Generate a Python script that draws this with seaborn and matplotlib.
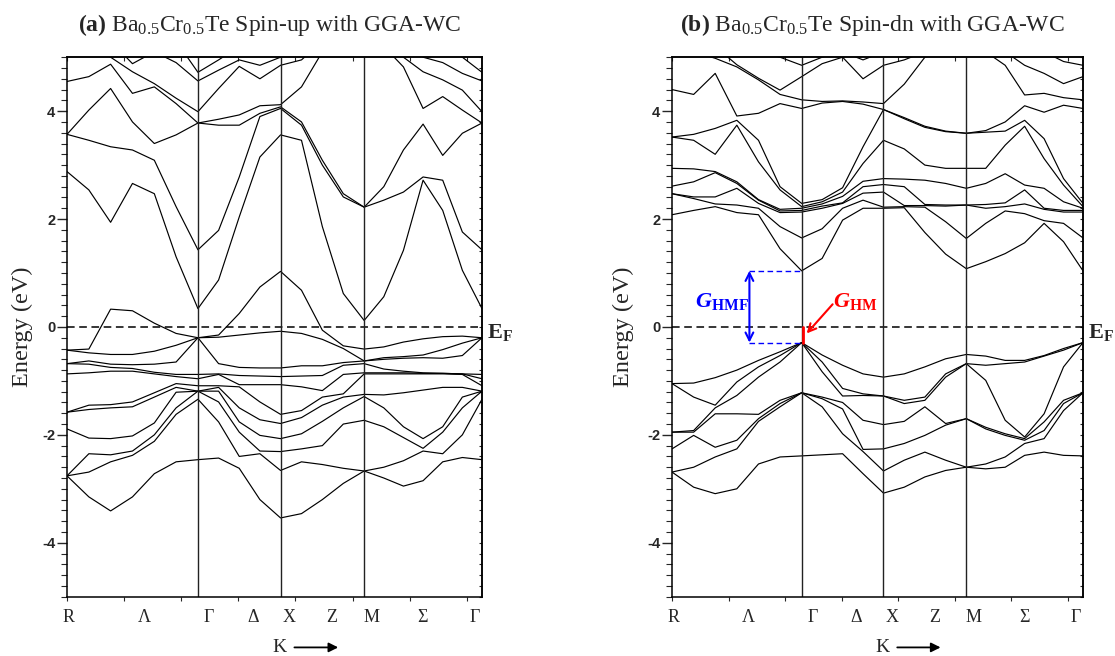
import numpy as np
import pandas as pd
import seaborn as sns
import matplotlib.pyplot as plt
import matplotlib.transforms as mtrans
from matplotlib.ticker import MultipleLocator, FixedLocator, FixedFormatter

# k-path coordinate of every sampled column (R -> Gamma -> X -> M -> Gamma)
k_path = [0, 21.7, 43.3, 65, 86.7, 108.3, 130,
          150.5, 171, 191.5, 212,
          232.8, 253.5, 274.3, 295,
          314.5, 334, 353.5, 373, 392.5, 412]
k_sym = [0, 130, 212, 295, 412]
sym_labels = ['R', 'Λ', 'Γ', 'Δ', 'X', 'Z', 'M', 'Σ', 'Γ']
sym_label_k = [2, 77, 141, 185, 221, 263, 302, 353, 405]

# (a) spin-up: energies (eV) at each k column, 11 lower + 7 upper bands
up_R_G = [
    [-2.76, -2.76, -2.76, -1.89, -1.58, -1.58, -0.87, -0.68, -0.68, -0.43, -0.43, 2.88, 3.57, 3.57, 4.55, 5.3, 5.6, 5.9],
    [-3.15, -2.69, -2.35, -2.06, -1.53, -1.45, -0.85, -0.69, -0.63, -0.48, -0.41, 2.54, 3.46, 4.02, 4.64, 5.2, 5.5, 5.8],
    [-3.41, -2.50, -2.37, -2.07, -1.50, -1.44, -0.82, -0.75, -0.69, -0.51, 0.33, 1.94, 3.34, 4.42, 4.87, 5.0, 5.3, 5.6],
    [-3.15, -2.38, -2.30, -2.02, -1.48, -1.39, -0.82, -0.77, -0.70, -0.51, 0.30, 2.66, 3.28, 3.80, 4.33, 4.73, 4.88, 5.3],
    [-2.72, -2.12, -2.00, -1.78, -1.30, -1.22, -0.87, -0.84, -0.69, -0.45, 0.07, 2.47, 3.09, 3.40, 4.45, 4.51, 5.1, 5.4],
    [-2.50, -1.62, -1.50, -1.21, -1.12, -1.05, -0.92, -0.88, -0.65, -0.34, -0.12, 1.30, 2.23, 3.56, 4.14, 4.24, 4.90, 5.3],
    [-2.46, -1.34, -1.19, -1.19, -1.19, -1.09, -0.96, -0.88, -0.20, -0.20, -0.20, 0.34, 1.43, 3.78, 3.78, 3.99, 4.56, 4.72],
]
up_G_X = [
    [-2.43, -1.76, -1.39, -1.19, -1.12, -1.09, -0.88, -0.87, -0.68, -0.19, -0.15, 0.87, 1.79, 3.74, 3.85, 4.42, 4.76, 4.95],
    [-2.62, -2.40, -1.95, -1.76, -1.50, -1.11, -1.07, -0.90, -0.75, -0.15, 0.25, 2.04, 2.78, 3.74, 3.93, 4.83, 4.95, 5.2],
    [-3.20, -2.35, -2.30, -2.01, -1.72, -1.39, -1.07, -0.91, -0.76, -0.11, 0.74, 3.15, 3.90, 3.96, 4.10, 4.60, 4.85, 5.1],
    [-3.54, -2.66, -2.31, -2.07, -1.79, -1.62, -1.07, -0.92, -0.76, -0.08, 1.03, 3.56, 4.05, 4.08, 4.12, 4.85, 5.0, 5.3],
]
up_X_M = [
    [-3.46, -2.50, -2.26, -1.98, -1.68, -1.55, -1.11, -0.91, -0.72, -0.12, 0.68, 3.46, 3.74, 3.80, 4.45, 4.95, 5.2, 5.5],
    [-3.20, -2.55, -2.20, -1.75, -1.45, -1.30, -1.18, -0.90, -0.72, -0.23, -0.06, 1.86, 3.00, 3.09, 5.1, 5.3, 5.5, 5.8],
    [-2.90, -2.62, -1.80, -1.50, -1.30, -1.24, -0.88, -0.71, -0.66, -0.40, -0.35, 0.62, 2.41, 2.47, 5.2, 5.4, 5.6, 5.9],
    [-2.67, -2.67, -1.73, -1.29, -1.25, -0.87, -0.85, -0.68, -0.63, -0.63, -0.41, 0.12, 2.22, 2.22, 5.3, 5.5, 5.7, 6.0],
]
up_M_G = [
    [-2.80, -2.60, -1.85, -1.50, -1.26, -0.87, -0.85, -0.78, -0.60, -0.57, -0.37, 0.56, 2.35, 2.60, 5.2, 5.5, 5.8, 6.0],
    [-2.95, -2.48, -2.05, -1.85, -1.22, -0.87, -0.85, -0.82, -0.58, -0.55, -0.28, 1.42, 2.50, 3.28, 4.82, 5.0, 5.3, 5.6],
    [-2.85, -2.30, -2.25, -2.07, -1.17, -0.87, -0.86, -0.85, -0.57, -0.52, -0.22, 2.72, 2.78, 3.76, 4.05, 4.73, 5.0, 5.3],
    [-2.50, -2.35, -1.95, -1.85, -1.12, -0.87, -0.86, -0.86, -0.58, -0.42, -0.18, 2.16, 2.72, 3.18, 4.27, 4.58, 4.90, 5.2],
    [-2.42, -2.00, -1.50, -1.30, -1.12, -0.88, -0.87, -0.87, -0.53, -0.30, -0.17, 1.05, 1.76, 3.59, 4.02, 4.39, 4.70, 5.0],
    [-2.46, -1.34, -1.19, -1.19, -1.19, -1.09, -0.96, -0.88, -0.20, -0.20, -0.20, 0.34, 1.43, 3.78, 3.78, 3.99, 4.56, 4.72],
]

# (b) spin-dn: 7 lower + 13 upper bands
dn_R_G = [
    [-2.69, -2.69, -2.26, -1.95, -1.95, -1.05, -1.05, 2.08, 2.47, 2.47, 2.61, 2.94, 3.52, 3.52, 4.40, 5.1, 5.3, 5.5, 5.7, 5.9],
    [-2.97, -2.60, -2.01, -1.95, -1.92, -1.30, -1.04, 2.16, 2.38, 2.41, 2.69, 2.93, 3.46, 3.57, 4.31, 5.1, 5.3, 5.5, 5.7, 5.9],
    [-3.09, -2.41, -2.23, -1.61, -1.50, -1.45, -0.94, 2.23, 2.28, 2.41, 2.86, 2.88, 3.20, 3.68, 4.70, 4.98, 5.2, 5.4, 5.6, 5.8],
    [-3.00, -2.26, -2.10, -1.61, -1.27, -1.02, -0.80, 2.12, 2.26, 2.57, 2.66, 2.69, 3.74, 3.83, 3.91, 4.82, 4.86, 5.2, 5.4, 5.6],
    [-2.54, -1.75, -1.70, -1.62, -0.93, -0.74, -0.62, 2.08, 2.20, 2.29, 2.35, 2.36, 3.06, 3.46, 3.96, 4.58, 4.61, 5.1, 5.3, 5.5],
    [-2.41, -1.48, -1.42, -1.36, -0.65, -0.53, -0.46, 1.45, 1.86, 2.12, 2.15, 2.18, 2.54, 2.60, 4.14, 4.31, 4.39, 5.0, 5.3, 5.5],
    [-2.39, -1.22, -1.22, -1.22, -0.29, -0.29, -0.29, 1.04, 1.65, 2.13, 2.16, 2.20, 2.23, 2.29, 4.05, 4.21, 4.64, 4.85, 5.1, 5.3],
]
dn_G_X = [
    [-2.37, -1.48, -1.33, -1.30, -0.83, -0.65, -0.52, 1.27, 1.82, 2.20, 2.24, 2.28, 2.32, 2.36, 4.15, 4.18, 4.88, 5.0, 5.2, 5.4],
    [-2.35, -1.98, -1.52, -1.40, -1.28, -1.14, -0.71, 1.98, 2.20, 2.29, 2.30, 2.42, 2.50, 2.58, 4.18, 4.19, 5.0, 5.1, 5.3, 5.5],
    [-2.72, -2.31, -2.27, -1.73, -1.27, -1.24, -0.87, 2.20, 2.35, 2.48, 2.60, 2.70, 3.03, 3.34, 4.13, 4.17, 4.60, 4.95, 5.2, 5.4],
    [-3.08, -2.67, -2.26, -1.81, -1.28, -1.28, -0.93, 2.20, 2.22, 2.50, 2.64, 2.75, 3.46, 4.03, 4.03, 4.14, 4.85, 5.1, 5.3, 5.5],
]
dn_X_M = [
    [-2.97, -2.47, -2.16, -1.75, -1.42, -1.36, -0.87, 2.21, 2.23, 2.25, 2.60, 2.74, 3.30, 3.86, 3.88, 4.50, 4.95, 5.1, 5.3, 5.5],
    [-2.78, -2.32, -2.01, -1.48, -1.36, -1.30, -0.74, 1.75, 2.22, 2.25, 2.27, 2.72, 3.00, 3.70, 3.72, 5.0, 5.1, 5.3, 5.5, 5.7],
    [-2.66, -2.47, -1.82, -1.79, -0.93, -0.87, -0.59, 1.35, 1.95, 2.24, 2.26, 2.66, 2.94, 3.62, 3.63, 5.1, 5.2, 5.4, 5.6, 5.8],
    [-2.60, -2.60, -1.70, -1.70, -0.68, -0.68, -0.51, 1.08, 1.64, 2.26, 2.26, 2.57, 2.94, 3.59, 3.59, 5.2, 5.3, 5.5, 5.7, 5.9],
]
dn_M_G = [
    [-2.63, -2.54, -1.89, -1.86, -0.99, -0.71, -0.54, 1.21, 1.92, 2.20, 2.27, 2.66, 2.94, 3.61, 3.64, 5.1, 5.2, 5.4, 5.6, 5.8],
    [-2.60, -2.41, -2.01, -1.98, -1.73, -0.68, -0.62, 1.36, 2.15, 2.23, 2.30, 2.84, 3.37, 3.63, 3.80, 4.85, 5.1, 5.3, 5.5, 5.7],
    [-2.38, -2.16, -2.10, -2.07, -2.04, -0.65, -0.62, 1.56, 2.10, 2.28, 2.54, 2.63, 3.72, 3.83, 4.10, 4.30, 4.85, 5.1, 5.3, 5.5],
    [-2.32, -2.07, -1.92, -1.76, -1.61, -0.54, -0.53, 1.92, 1.97, 2.18, 2.20, 2.57, 3.12, 3.49, 3.98, 4.33, 4.70, 5.1, 5.3, 5.5],
    [-2.38, -1.55, -1.42, -1.36, -0.74, -0.43, -0.40, 1.58, 1.92, 2.13, 2.16, 2.32, 2.63, 2.75, 4.11, 4.25, 4.51, 4.92, 5.2, 5.4],
    [-2.39, -1.22, -1.22, -1.22, -0.29, -0.29, -0.29, 1.04, 1.65, 2.13, 2.16, 2.20, 2.23, 2.29, 4.05, 4.21, 4.64, 4.85, 5.1, 5.3],
]
n_low_dn = 7

sns.set_style('ticks')
plt.rcParams['font.family'] = ['Liberation Serif', 'DejaVu Serif']
plt.rcParams['mathtext.fontset'] = 'custom'
plt.rcParams['mathtext.rm'] = 'Liberation Serif'
plt.rcParams['mathtext.it'] = 'Liberation Serif:italic'
plt.rcParams['mathtext.bf'] = 'Liberation Serif:bold'
plt.rcParams['mathtext.bfit'] = 'Liberation Serif:italic:bold'
plt.rcParams['axes.unicode_minus'] = False

W, H = 1115, 656
fig = plt.figure(figsize=(W / 100, H / 100), dpi=100)
ax1 = fig.add_axes([67 / W, 1 - 596.7 / H, 415 / W, 539.5 / H])
ax2 = fig.add_axes([672 / W, 1 - 596.7 / H, 411 / W, 539.5 / H])


def to_long(rows):
    df = pd.DataFrame(rows, index=k_path)
    df.index.name = 'k'
    return df.reset_index().melt(id_vars='k', var_name='band', value_name='E')


def draw_panel(ax, rows, title, title_x, ylab_x):
    data = to_long(rows)
    sns.lineplot(data=data, x='k', y='E', units='band', estimator=None,
                 color='black', lw=0.85, ax=ax, legend=False)
    ax.axhline(0, color='black', lw=1.1, ls=(0, (5, 3)))
    for k in k_sym[1:-1]:
        ax.axvline(k, color='#222222', lw=1.0)
    ax.set_xlim(k_sym[0], k_sym[-1])
    ax.set_ylim(-5, 5)
    ax.set_xlabel('')
    ax.set_ylabel('Energy (eV)', fontsize=17.5)
    ax.yaxis.set_label_coords(ylab_x, 0.5)

    ax.yaxis.set_major_locator(FixedLocator([-4, -2, 0, 2, 4]))
    ax.yaxis.set_major_formatter(FixedFormatter(['-4', '-2', '0', '2', '4']))
    ax.yaxis.set_minor_locator(MultipleLocator(0.2))
    ax.tick_params(axis='y', which='major', direction='out', length=7, width=1, pad=1.5,
                   labelsize=10.5)
    ax.tick_params(axis='y', which='minor', direction='out', length=4.5, width=0.8)
    for lab in ax.get_yticklabels():
        lab.set_fontfamily('Liberation Sans')
        lab.set_fontweight('bold')

    xt = np.arange(0, 412, 56.7)
    ax.set_xticks(xt)
    ax.set_xticklabels([])
    ax.tick_params(axis='x', direction='out', length=3, width=0.8)
    top = ax.secondary_xaxis('top')
    top.set_xticks(xt)
    top.tick_params(direction='in', length=3, width=0.8, labeltop=False)
    right = ax.secondary_yaxis('right')
    right.yaxis.set_major_locator(FixedLocator([-4, -2, 0, 2, 4]))
    right.yaxis.set_minor_locator(MultipleLocator(0.2))
    right.tick_params(which='both', direction='in', length=2.5, width=0.8, labelright=False)
    for sp in list(ax.spines.values()) + [top.spines['top'], right.spines['right']]:
        sp.set_linewidth(1.1)
        sp.set_color('black')

    trans = mtrans.blended_transform_factory(ax.transData, ax.transAxes)
    for lab, k in zip(sym_labels, sym_label_k):
        ax.text(k, -0.022, lab, transform=trans, ha='center', va='top', fontsize=13)
    ax.text(218, -0.094, 'K', transform=trans, ha='right', va='center', fontsize=14)
    ax.annotate('', xy=(272, -0.094), xytext=(223, -0.094), xycoords=trans, textcoords=trans,
                arrowprops=dict(arrowstyle='-|>', lw=1.3, color='black', mutation_scale=14),
                annotation_clip=False)
    ax.text(1.012, 0.49, r'$\mathbf{E_F}$', transform=ax.transAxes, ha='left', va='center',
            fontsize=16)
    fig.text(title_x / W, 1 - 25 / H, title, ha='center', va='center', fontsize=17)


rows_up = up_R_G + up_G_X + up_X_M + up_M_G
rows_dn = dn_R_G + dn_G_X + dn_X_M + dn_M_G
draw_panel(ax1, rows_up, r'$\mathbf{(a)}$ Ba$_{0.5}$Cr$_{0.5}$Te Spin-up with GGA-WC', 270, -0.082)
draw_panel(ax2, rows_dn, r'$\mathbf{(b)}$ Ba$_{0.5}$Cr$_{0.5}$Te Spin-dn with GGA-WC', 872, -0.092)

# half-metallic gaps in the spin-dn channel at Gamma
gamma_row = dn_R_G[-1]
vbm = max(gamma_row[:n_low_dn])
cbm = min(gamma_row[n_low_dn:])
kg = k_sym[1]
x_arrow = 77.6
ax2.plot([x_arrow, kg], [cbm, cbm], color='blue', lw=1.0, ls=(0, (4, 2.5)))
ax2.plot([x_arrow, kg], [vbm, vbm], color='blue', lw=1.0, ls=(0, (4, 2.5)))
ax2.annotate('', xy=(x_arrow, vbm), xytext=(x_arrow, cbm),
             arrowprops=dict(arrowstyle='<->', color='blue', lw=1.5, mutation_scale=14,
                             shrinkA=0, shrinkB=0))
ax2.text(50, 0.47, r'$\mathbfit{G}_{\mathbf{HMF}}$', color='blue', ha='center', va='center',
         fontsize=16)
ax2.plot([kg + 1, kg + 1], [0, vbm], color='red', lw=2.0)
ax2.annotate('', xy=(135, -0.12), xytext=(161, 0.42),
             arrowprops=dict(arrowstyle='->', color='red', lw=1.5, mutation_scale=14,
                             shrinkA=0, shrinkB=0))
ax2.text(184, 0.47, r'$\mathbfit{G}_{\mathbf{HM}}$', color='red', ha='center', va='center',
         fontsize=16)

fig.savefig('out.png', dpi=100)
